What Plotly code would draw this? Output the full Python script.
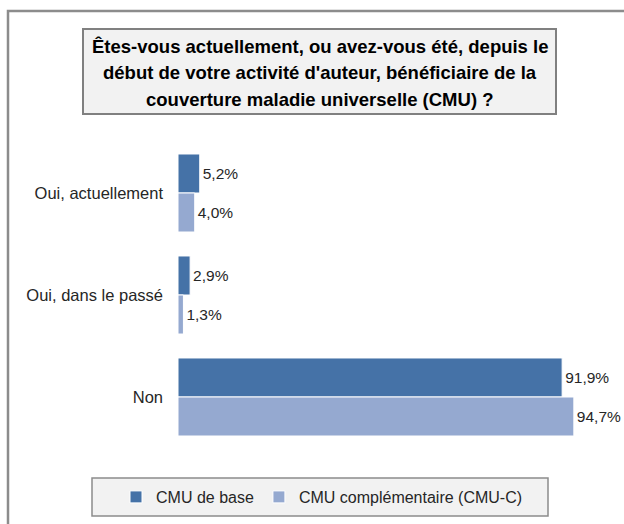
import plotly.graph_objects as go

categories = ["Oui, actuellement", "Oui, dans le passé", "Non"]
cmu_base = [5.2, 2.9, 91.9]
cmu_c = [4.0, 1.3, 94.7]
series_names = ["CMU de base", "CMU complémentaire (CMU-C)"]
title_lines = [
    "Êtes-vous actuellement, ou avez-vous été, depuis le",
    "début de votre activité d'auteur, bénéficiaire de la",
    "couverture maladie universelle (CMU) ?",
]

W, H = 624, 524
FONT = "Liberation Sans"
DARK = "#4572A7"
LIGHT = "#95A9D0"


def px(x):
    return x / W


def py(y):
    return 1 - y / H


fig = go.Figure()
fig.add_trace(go.Bar(
    y=categories, x=cmu_base, orientation="h", name=series_names[0],
    marker=dict(color=DARK, line=dict(color="white", width=1)),
    texttemplate="%{x:.1f}%", textposition="outside",
    textfont=dict(family=FONT, size=15.5, color="#262626"), cliponaxis=False,
))
fig.add_trace(go.Bar(
    y=categories, x=cmu_c, orientation="h", name=series_names[1],
    marker=dict(color=LIGHT, line=dict(color="white", width=1)),
    texttemplate="%{x:.1f}%", textposition="outside",
    textfont=dict(family=FONT, size=15.5, color="#262626"), cliponaxis=False,
))

shapes = [
    # outer frame (top and left edges)
    dict(type="path", xref="paper", yref="paper",
         path=f"M {px(8)} -0.01 L {px(8)} {py(11)} L 1.01 {py(11)}",
         line=dict(color="#8C8C8C", width=2.5)),
    # title box
    dict(type="rect", xref="paper", yref="paper", layer="below",
         x0=px(83), x1=px(556), y0=py(114), y1=py(29),
         fillcolor="#F2F2F2", line=dict(color="#808080", width=2)),
    # legend box
    dict(type="rect", xref="paper", yref="paper", layer="below",
         x0=px(92), x1=px(548), y0=py(516), y1=py(478),
         fillcolor="#F2F2F2", line=dict(color="#8C8C8C", width=1.5)),
]

annotations = []
for i, line in enumerate(title_lines):
    annotations.append(dict(
        text=f"<b>{line}</b>", xref="paper", yref="paper",
        x=px(320), y=py(47 + 26 * i), xanchor="center", yanchor="middle",
        showarrow=False, font=dict(family=FONT, size=18.5, color="#000000"),
    ))

fig.update_layout(
    width=W, height=H,
    margin=dict(l=0, r=0, t=0, b=0),
    paper_bgcolor="white", plot_bgcolor="white",
    barmode="group", bargap=0.235, bargroupgap=0.0,
    separators=", ",
    showlegend=True,
    legend=dict(orientation="h", x=px(322), y=py(497), xanchor="center", yanchor="middle",
                bgcolor="rgba(0,0,0,0)", font=dict(family=FONT, size=16, color="#262626"),
                itemwidth=30, traceorder="normal"),
    shapes=shapes,
    annotations=annotations,
    xaxis=dict(domain=[px(178), px(596)], range=[0, 100], visible=False,
               showgrid=False, zeroline=False),
    yaxis=dict(domain=[py(448), py(142)], autorange="reversed",
               showgrid=False, zeroline=False, showline=False, ticks="",
               ticklabelstandoff=14,
               tickfont=dict(family=FONT, size=16.5, color="#262626")),
    font=dict(family=FONT),
)

fig.write_html(
    "out.html",
    config={"displayModeBar": False},
    post_script="document.body.style.margin='0';document.body.style.overflow='hidden';",
)
